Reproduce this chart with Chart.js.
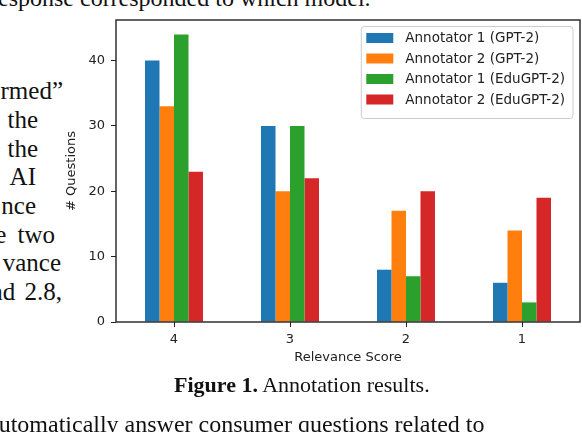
<!DOCTYPE html>
<html>
<head>
<meta charset="utf-8">
<script src="https://cdn.jsdelivr.net/npm/chart.js@4/dist/chart.umd.min.js"></script>
<style>
    html, body { margin: 0; padding: 0; background: #fff; }
    #page { position: relative; width: 582px; height: 432px; overflow: hidden; }
    #chartBox { position: absolute; left: 0; top: 0; width: 582px; height: 432px; }
    .txt {
        position: absolute;
        font-family: "Liberation Serif", "Times New Roman", serif;
        font-size: 24px;
        color: #111;
        white-space: pre;
        line-height: 1;
    }
    .side { text-align: right; font-size: 25px; }
    .caption { font-size: 22px; }
</style>
</head>
<body>
<div id="page">
    <div class="txt" style="left:-10px; top:-14px;">response corresponded to which model.</div>
    <div class="txt side" style="top:78px; right:519px;">rmed”</div>
    <div class="txt side" style="top:107px; right:544px;">the</div>
    <div class="txt side" style="top:136px; right:544px;">the</div>
    <div class="txt side" style="top:164px; right:546px;">AI</div>
    <div class="txt side" style="top:193px; right:546px;">nce</div>
    <div class="txt side" style="top:222px; right:527px; word-spacing:5px;">e two</div>
    <div class="txt side" style="top:250px; right:521px;">vance</div>
    <div class="txt side" style="top:279px; right:520px; word-spacing:3px;">and 2.8,</div>
    <div id="chartBox"><canvas id="annotChart"></canvas></div>
    <div class="txt caption" style="left:174px; top:374px;"><b>Figure 1.</b> Annotation results.</div>
    <div class="txt" style="left:-12px; top:412px;">automatically answer consumer questions related to</div>
</div>
<script>
// Relevance scores on the x axis
const relevanceScores = ['4', '3', '2', '1'];

// Number of questions per score, one array per annotator / model
const annot1Gpt2 = [40, 30, 8, 6];
const annot2Gpt2 = [33, 20, 17, 14];
const annot1EduGpt2 = [44, 30, 7, 3];
const annot2EduGpt2 = [23, 22, 20, 19];

const seriesLabels = [
    'Annotator 1 (GPT-2)',
    'Annotator 2 (GPT-2)',
    'Annotator 1 (EduGPT-2)',
    'Annotator 2 (EduGPT-2)'
];
const seriesColors = ['#1f77b4', '#ff7f0e', '#2ca02c', '#d62728'];

const yTickStep = 10;
const yMax = 46.2;

const FONT = "'DejaVu Sans', sans-serif";
const INK = '#222';

// full box around the plot, like matplotlib spines
const framePlugin = {
    id: 'frame',
    afterDatasetsDraw(chart) {
        const { ctx, chartArea } = chart;
        ctx.save();
        ctx.strokeStyle = INK;
        ctx.lineWidth = 1.4;
        ctx.strokeRect(chartArea.left, chartArea.top,
            chartArea.right - chartArea.left, chartArea.bottom - chartArea.top);
        ctx.restore();
    }
};

// legend drawn inside the plot, upper right
const insideLegend = {
    id: 'insideLegend',
    afterDraw(chart) {
        const { ctx, chartArea } = chart;
        const sets = chart.data.datasets;
        ctx.save();
        ctx.font = '13.5px ' + FONT;
        let textW = 0;
        sets.forEach(ds => { textW = Math.max(textW, ctx.measureText(ds.label).width); });

        const boxW = 44 + textW + 8;
        const rowH = 20.5;
        const boxH = 12 + rowH * sets.length - 2;
        const right = chartArea.right - 7;
        const left = right - boxW;
        const top = chartArea.top + 6.5;

        ctx.beginPath();
        ctx.roundRect(left, top, boxW, boxH, 3);
        ctx.fillStyle = 'rgba(255,255,255,0.8)';
        ctx.fill();
        ctx.strokeStyle = '#cccccc';
        ctx.lineWidth = 1;
        ctx.stroke();

        ctx.textBaseline = 'middle';
        sets.forEach((ds, i) => {
            const cy = top + 11.5 + i * rowH;
            ctx.fillStyle = ds.backgroundColor;
            ctx.fillRect(left + 5, cy - 5, 27, 10);
            ctx.fillStyle = INK;
            ctx.fillText(ds.label, left + 44, cy + 0.5);
        });
        ctx.restore();
    }
};

const ctx = document.getElementById('annotChart').getContext('2d');
new Chart(ctx, {
    type: 'bar',
    data: {
        labels: relevanceScores,
        datasets: [annot1Gpt2, annot2Gpt2, annot1EduGpt2, annot2EduGpt2].map((values, i) => ({
            label: seriesLabels[i],
            data: values,
            backgroundColor: seriesColors[i],
            borderWidth: 0,
            categoryPercentage: 0.5,
            barPercentage: 1.0
        }))
    },
    options: {
        responsive: true,
        maintainAspectRatio: false,
        animation: false,
        layout: { padding: { left: 0, top: 20, right: 2, bottom: 67 } },
        plugins: {
            legend: { display: false },
            tooltip: { enabled: false }
        },
        scales: {
            x: {
                grid: {
                    offset: false,
                    drawOnChartArea: false,
                    drawTicks: true,
                    tickLength: 5,
                    color: INK
                },
                border: { display: false },
                ticks: { color: INK, padding: 5, font: { family: FONT, size: 13 } },
                title: {
                    display: true,
                    text: 'Relevance Score',
                    color: INK,
                    padding: { top: 0, bottom: 0 },
                    font: { family: FONT, size: 13 }
                },
                afterFit(scale) { scale.height = 43; }
            },
            y: {
                min: 0,
                max: yMax,
                grid: {
                    drawOnChartArea: false,
                    drawTicks: true,
                    tickLength: 5,
                    color: INK
                },
                border: { display: false },
                ticks: {
                    stepSize: yTickStep,
                    includeBounds: false,
                    color: INK,
                    padding: 6,
                    font: { family: FONT, size: 13 }
                },
                title: {
                    display: true,
                    text: '# Questions',
                    color: INK,
                    padding: { top: 64, bottom: 0 },
                    font: { family: FONT, size: 13 }
                },
                afterFit(scale) { scale.width = 116; }
            }
        }
    },
    plugins: [framePlugin, insideLegend]
});
</script>
</body>
</html>
